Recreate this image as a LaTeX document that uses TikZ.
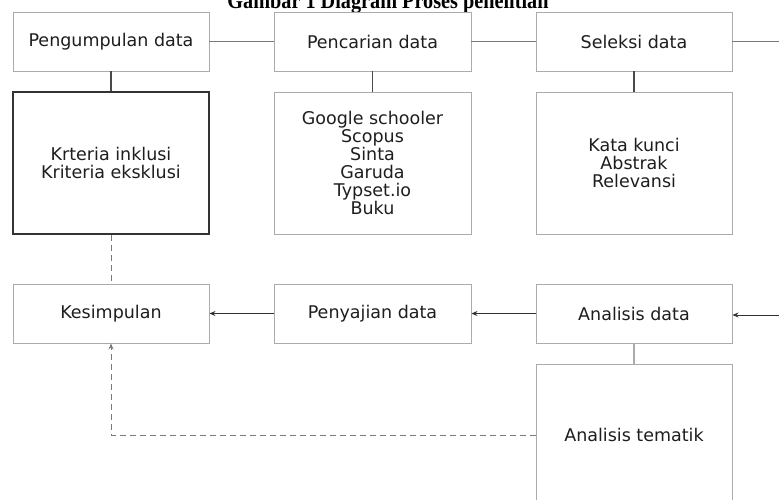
\documentclass[tikz,border=0pt]{standalone}
\usepackage{fontspec}
\setmainfont{DejaVu Sans}
\newfontfamily\titlefont{Liberation Serif}
\usetikzlibrary{arrows.meta}
\definecolor{txt}{HTML}{1E1E1E}
\definecolor{lgray}{HTML}{ABABAB}
\definecolor{mgray}{HTML}{7A7A7A}
\definecolor{dgray}{HTML}{4A4A4A}
\definecolor{dark}{HTML}{333333}
\tikzset{
  box/.style={draw=lgray, line width=0.9pt, minimum width=196pt, inner sep=0pt, align=center,
    text=txt, font=\fontsize{17.5}{18}\selectfont},
  smallbox/.style={box, minimum height=59pt},
  bigbox/.style={box, minimum height=142pt},
  hline/.style={draw=mgray, line width=1.1pt},
  stem/.style={draw=dgray, line width=1.1pt},
  tip/.style={-{Stealth[length=6pt,width=5pt]}},
  arr/.style={draw=dark, line width=0.9pt, tip},
  dline/.style={draw=mgray, line width=1pt, dash pattern=on 6pt off 4pt},
}
\begin{document}
\begin{tikzpicture}[x=1pt,y=-1pt]
\useasboundingbox (0,0) rectangle (779,500);
\clip (0,0) rectangle (779,500);
\fill[white] (0,0) rectangle (779,500);
\node[anchor=base, xscale=0.88, font=\titlefont\bfseries\fontsize{23}{23}\selectfont] (title) at (388,8.5) {Gambar 1 Diagram Proses penelitian};
% top row
\node[smallbox] (peng) at (111,41.5) {Pengumpulan data};
\node[smallbox, minimum width=197pt] (penc) at (372.5,41.5) {Pencarian data};
\node[smallbox] (sel) at (634,41.5) {Seleksi data};
% middle row
\node[bigbox, draw=dark, line width=1.2pt] (krit) at (111,163) {Krteria inklusi\\Kriteria eksklusi};
\node[bigbox, minimum width=197pt] (src) at (372.5,163) {Google schooler\\Scopus\\Sinta\\Garuda\\Typset.io\\Buku};
\node[bigbox] (kat) at (634,163) {Kata kunci\\Abstrak\\Relevansi};
% bottom row
\node[smallbox] (kes) at (111,313.5) {Kesimpulan};
\node[smallbox, minimum width=197pt] (peny) at (372.5,313.5) {Penyajian data};
\node[smallbox] (ana) at (634,313.5) {Analisis data};
\node[bigbox] (tem) at (634,435) {Analisis tematik};
\coordinate (redge1) at (779,41.5);
\coordinate (redge2) at (779,315);
% connectors
\draw[hline] (peng) -- (penc);
\draw[hline] (penc) -- (sel);
\draw[hline] (sel) -- (redge1);
\draw[stem] (peng) -- (krit);
\draw[stem] (penc) -- (src);
\draw[stem] (sel) -- (kat);
\draw[arr] (redge2) -- (ana.east |- redge2);
\draw[arr] (ana) -- (peny);
\draw[arr] (peny) -- (kes);
\draw[draw=lgray, line width=1.1pt] (ana) -- (tem);
\draw[dline] (krit) -- (kes);
\draw[dline, tip] (tem.west) -| (kes.south);
\end{tikzpicture}
\end{document}
